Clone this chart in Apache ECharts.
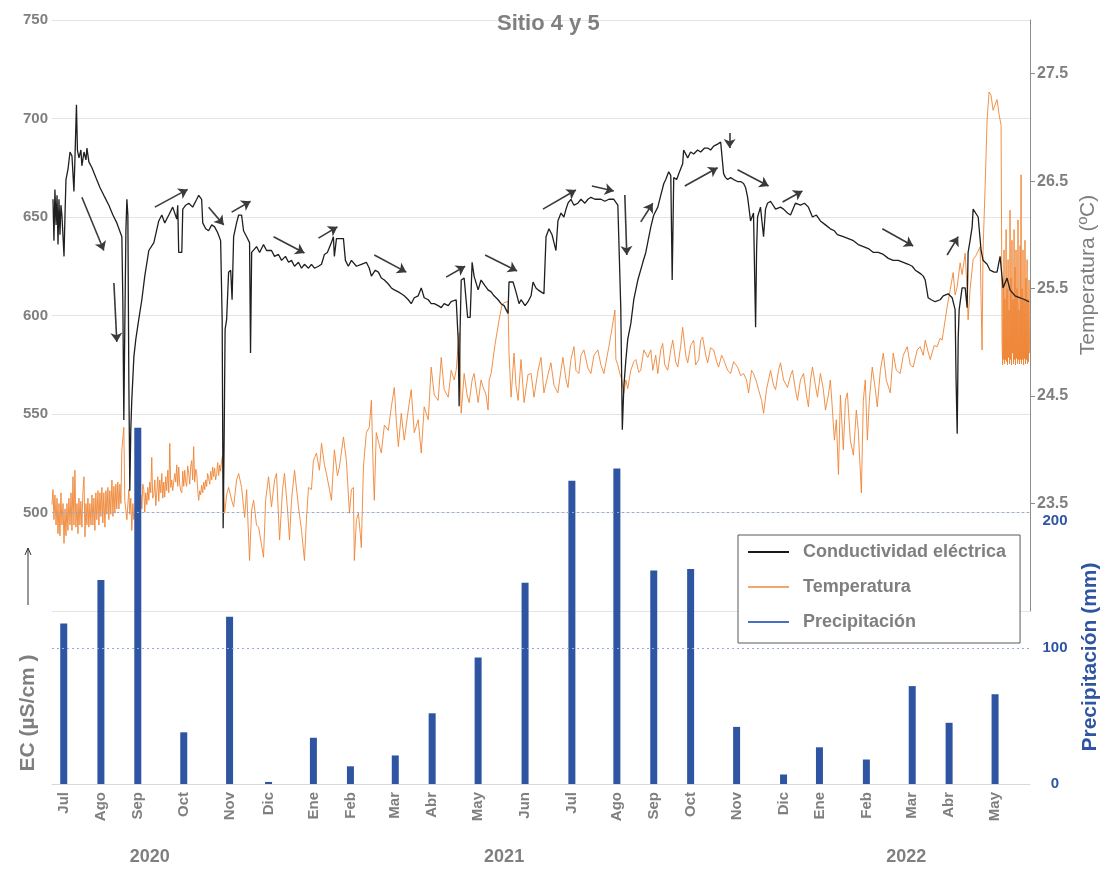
<!DOCTYPE html>
<html>
<head>
<meta charset="utf-8">
<script src="https://cdn.jsdelivr.net/npm/echarts@6/dist/echarts.min.js"></script>
<style>html,body{margin:0;padding:0;background:#fff}#c{width:1104px;height:869px}</style>
</head>
<body>
<div id="c"></div>
<script>
// x values are days counted from 1 July 2020
const monthLabels = ['Jul','Ago','Sep','Oct','Nov','Dic','Ene','Feb','Mar','Abr','May','Jun','Jul','Ago','Sep','Oct','Nov','Dic','Ene','Feb','Mar','Abr','May'];
const barDays = [8.4,35,61.4,94.3,127.1,155,187.1,213.6,245.7,272.1,305,338.6,372.1,404.3,430.7,457.1,490,523.6,549.3,582.9,615.7,642.1,675];
const precipitation = [118,150,262,38,123,1.5,34,13,21,52,93,148,223,232,157,158,42,7,27,18,72,45,66];
const yearLabels = ['2020','2021','2022'];
const yearDays = [70,323.6,611.4];
const ecTicks = [500,550,600,650,700,750];
const tempTicks = [23.5,24.5,25.5,26.5,27.5];
const precipTicks = [0,100,200];

const ecData = [
[0.7,659],[1.4,638],[2.1,664],[2.9,646],[3.6,661],[4.3,636],[5,659],[5.7,641],[6.4,656],[7.1,651],
[8.6,630],[9.3,651],[10,669],[11.4,674],[12.9,683],[14.3,681],[15.7,663],[16.4,679],[17.5,707],[18.2,684],
[19.3,680],[20.7,684],[21.4,676],[22.9,683],[24.3,679],[25,685],[26.4,678],[28.6,675],[31.4,670],[34.3,665],
[37.1,661],[40.7,656],[43.6,651],[46.4,647],[50,640],[50.7,608],[51.4,547],[52.1,593],[52.9,643],[53.6,659],
[54.3,651],[55,567],[55.7,511],[56.4,542],[57.1,557],[58.6,579],[60,588],[62.1,598],[64.3,608],[66.4,620],
[69.3,633],[72.9,637],[76.4,648],[78.6,651],[80.7,647],[83.6,651],[86.4,655],[89.3,649],[90,656],[90.7,632],
[92.9,632],[93.6,654],[95.7,656],[97.9,657],[100.7,655],[103.6,659],[105,661],[107.1,659],[107.9,647],[110,644],
[112.1,643],[114.3,646],[116.4,645],[118.6,642],[120.7,638],[121.8,598],[122.5,492],[123.2,537],[123.9,593],[125,598],
[126.4,622],[127.9,623],[128.9,608],[130,640],[132.1,647],[133.6,651],[135.7,651],[137.1,643],[139.3,640],[141.4,637],
[142.1,581],[142.9,632],[146.4,635],[148.6,632],[151.4,636],[153.6,633],[155,632],[157.1,633],[159.3,630],[162.1,631],
[164.3,628],[167.1,630],[169.3,627],[171.4,628],[173.6,625],[176.4,627],[178.6,624],[180.7,626],[183.6,624],[185.7,626],
[187.9,624],[190.7,625],[192.9,626],[195,631],[197.1,632],[200,637],[201.4,640],[202.1,630],[203.6,639],[205.7,639],
[208.6,639],[210,628],[212.1,625],[214.3,628],[217.9,625],[221.4,626],[225,627],[227.1,624],[228.6,620],[231.4,623],
[233.6,622],[235.7,619],[237.9,618],[240.7,616],[242.9,614],[245,613],[247.9,612],[250,611],[252.1,610],[255,608],
[257.1,606],[259.3,609],[262.1,610],[264.3,614],[266.4,609],[269.3,608],[271.4,606],[273.6,606],[276.4,605],[278.6,604],
[280.7,606],[283.6,605],[285.7,607],[289.3,608],[290.7,588],[291.4,554],[292.1,593],[292.9,618],[295,619],[296.4,618],
[297.5,599],[299.3,599],[300,613],[300.7,627],[302.1,620],[305,613],[307.1,618],[310,615],[312.1,613],[314.3,612],
[316.4,610],[319.3,608],[321.4,606],[323.6,605],[325,603],[326.4,601],[327.1,617],[330,617],[332.1,612],[334.3,606],
[335.7,608],[337.1,609],[338.6,605],[340.7,607],[342.9,610],[344.3,617],[346.4,614],[347.9,613],[350,612],[352.1,611],
[353.6,640],[355.7,644],[357.9,641],[359.3,637],[360.7,633],[362.1,648],[364.3,652],[366.4,650],[367.9,654],[369.3,657],
[371.4,659],[373.6,656],[376.4,657],[378.6,659],[381.4,657],[383.6,659],[385.7,660],[388.6,659],[390.7,659],[392.9,659],
[395.7,658],[398.6,659],[402.1,659],[405,656],[406.4,655],[407.1,604],[408.2,542],[409.3,564],[410.7,577],[412.1,588],
[414.3,596],[416.4,608],[419.3,618],[422.9,627],[425,632],[428.6,645],[430.7,651],[433.6,655],[435.7,661],[437.9,667],
[439.3,669],[441.4,673],[442.9,671],[443.9,618],[445,670],[447.1,669],[448.6,672],[451.4,677],[452.1,684],[455,680],
[457.1,683],[459.3,682],[462.1,684],[464.3,683],[467.1,685],[469.3,685],[471.4,684],[473.6,686],[476.4,687],[478.6,688],
[480,688],[480.7,672],[482.1,670],[483.6,669],[485.7,670],[487.9,669],[490.7,668],[492.9,668],[495,667],[496.4,665],
[497.9,660],[500,648],[502.1,652],[503.6,594],[504.3,633],[505,650],[507.1,655],[509.3,640],[510.7,654],[512.1,657],
[514.3,658],[515.7,659],[517.9,654],[521.4,655],[523.6,654],[526.4,652],[528.6,651],[530,650],[532.1,657],[535.7,656],
[538.6,657],[541.4,655],[544.3,650],[547.1,651],[550,648],[553.6,646],[557.1,644],[560,643],[562.1,641],[566.4,640],
[570,639],[573.6,638],[577.1,636],[580.7,635],[584.3,634],[587.9,632],[591.4,632],[595,631],[598.6,629],[602.1,628],
[605.7,628],[609.3,627],[612.9,626],[615.7,625],[617.9,623],[620,622],[622.1,621],[623.6,620],[625,618],[626.4,617],
[627.1,609],[629.3,608],[632.1,607],[635.7,608],[637.9,610],[641.4,611],[644.3,609],[646.4,603],[647.1,567],[647.9,540],
[648.6,588],[649.3,603],[651.4,614],[653.6,614],[655,604],[655.7,632],[657.1,638],[658.6,645],[659.3,654],[660.7,653],
[662.9,650],[664.3,650],[665,633],[666.4,628],[669.3,626],[671.4,623],[674.3,622],[676.4,622],[678.6,630],[680.7,614],
[683.6,619],[685.7,613],[689.3,610],[692.9,609],[696.4,608],[699.3,607]
];

const tempData = [
[0,23.49],[0.7,23.63],[1.4,23.35],[2.1,23.58],[2.9,23.3],[3.6,23.55],[4.3,23.22],[5,23.5],[5.7,23.2],[6.4,23.6],
[7.1,23.3],[7.9,23.5],[8.6,23.13],[9.3,23.45],[10,23.2],[10.7,23.5],[11.4,23.25],[12.1,23.55],[12.9,23.3],[13.6,23.6],
[14.3,23.25],[15,23.75],[15.7,23.3],[16.4,23.81],[17.1,23.28],[17.9,23.5],[18.6,23.22],[19.3,23.55],[20,23.3],[20.7,23.52],
[21.4,23.28],[22.1,23.6],[22.9,23.75],[23.6,23.19],[24.3,23.5],[25,23.3],[25.7,23.55],[26.4,23.28],[27.1,23.5],[27.9,23.3],
[28.6,23.58],[29.3,23.3],[30,23.55],[30.7,23.25],[31.4,23.6],[32.1,23.35],[32.9,23.62],[33.6,23.3],[34.3,23.6],[35,23.38],
[35.7,23.65],[36.4,23.32],[37.1,23.6],[37.9,23.28],[38.6,23.62],[39.3,23.4],[40,23.65],[40.7,23.35],[41.4,23.62],[42.1,23.4],
[42.9,23.72],[43.6,23.38],[44.3,23.66],[45,23.41],[45.7,23.68],[46.4,23.45],[47.1,23.7],[47.9,23.45],[48.6,23.68],[49.3,23.5],
[50,24.0],[51.4,24.21],[52.1,23.53],[53.6,23.35],[55,23.63],[55.7,23.4],[56.4,23.55],[57.1,23.25],[57.9,23.5],[58.6,23.35],
[59.3,23.41],[60,23.6],[60.7,23.38],[61.4,23.49],[62.1,23.62],[62.9,23.37],[63.6,23.58],[64.3,23.45],[65,23.68],[65.7,23.63],
[66.4,23.42],[67.1,23.6],[67.9,23.49],[68.6,23.65],[69.3,23.53],[70,23.7],[70.7,23.6],[71.4,23.93],[72.1,23.55],[72.9,23.58],
[73.6,23.72],[74.3,23.48],[75,23.6],[75.7,23.75],[76.4,23.52],[77.1,23.72],[77.9,23.6],[78.6,23.78],[79.3,23.55],[80,23.7],
[80.7,23.56],[81.4,23.75],[82.1,23.62],[82.9,23.81],[83.6,23.6],[84.3,24.06],[85,23.65],[85.7,23.72],[86.4,23.62],[87.1,23.63],
[87.9,23.78],[88.6,23.7],[89.3,23.86],[90,23.66],[90.7,23.84],[91.4,23.68],[92.1,23.62],[92.9,23.6],[93.6,23.8],[94.3,23.66],
[95,23.81],[95.7,23.7],[96.4,23.66],[97.1,23.85],[97.9,23.78],[98.6,23.68],[99.3,23.85],[100,23.9],[100.7,23.72],[101.4,24.03],
[102.1,23.7],[102.9,23.82],[103.6,23.78],[104.3,23.62],[105,23.53],[105.7,23.62],[106.4,23.58],[107.1,23.67],[107.9,23.6],[108.6,23.7],
[109.3,23.63],[110,23.72],[110.7,23.66],[111.4,23.78],[112.1,23.74],[112.9,23.68],[113.6,23.8],[114.3,23.72],[115,23.84],[115.7,23.75],
[116.4,23.83],[117.1,23.72],[117.9,23.78],[118.6,23.88],[119.3,23.76],[120,23.86],[120.7,23.8],[121.4,23.9],[122.1,23.95],[122.9,23.6],
[123.6,23.41],[125,23.58],[126.4,23.65],[128.6,23.53],[130,23.47],[132.1,23.72],[133.6,23.78],[135.7,23.65],
[137.9,23.37],[139.3,23.63],[141.4,22.97],[142.9,23.44],[144.3,23.53],[146.4,23.3],[147.9,23.28],[150,23.11],[151.4,23.0],[152.9,23.53],
[155,23.75],[157.1,23.47],[159.3,23.72],[160.7,23.78],[162.9,23.16],[165,23.63],[166.4,23.78],[168.6,23.44],[170,23.16],[171.4,23.53],
[173.6,23.81],[176.4,23.47],[178.6,23.25],[180.7,22.97],[182.1,23.35],[183.6,23.65],[185.7,23.63],[187.1,23.9],[189.3,23.97],[191.4,23.81],
[192.9,24.06],[195,23.86],[196.4,23.78],[198.6,23.63],[200,23.53],[202.1,24.0],[204.3,23.76],[205.7,23.84],[208.6,24.12],[210.7,23.9],
[212.9,23.41],[214.3,23.63],[215.7,23.65],[216.4,22.97],[217.9,23.35],[219.3,23.41],[220.7,23.21],[221.4,23.09],[222.9,23.84],[225,24.16],
[227.1,24.21],[228.6,24.46],[230,23.78],[230.7,23.53],[232.1,24.16],[234.3,24.04],[235.7,23.97],[237.9,24.23],[240.7,24.18],[242.9,24.4],
[245,24.58],[246.4,24.28],[247.9,24.03],[250,24.34],[252.1,24.09],[255,24.37],[257.1,24.56],[259.3,24.16],[262.1,24.28],[264.3,23.97],
[266.4,24.4],[269.3,24.28],[271.4,24.77],[273.6,24.51],[276.4,24.46],[278.6,24.86],[280.7,24.56],[283.6,24.49],[285.7,24.74],[287.9,24.65],
[289.3,24.74],[291.4,25.09],[292.9,24.34],[295,24.71],[297.1,24.51],[298.6,24.44],[300.7,24.65],[302.1,24.71],[305,24.44],[307.1,24.65],
[308.6,24.58],[310.7,24.51],[312.1,24.37],[312.9,24.65],[314.3,24.71],[317.1,24.98],[320,25.21],[322.1,25.35],[323.6,25.37],[326.4,25.38],
[327.1,24.9],[328.6,24.49],[330.7,24.9],[332.1,24.6],[333.6,24.46],[335.7,24.84],[337.9,24.44],[340.7,24.7],[342.9,24.71],[345,24.49],
[347.9,24.74],[350,24.86],[352.1,24.53],[355,24.7],[357.1,24.81],[359.3,24.6],[362.1,24.53],[364.3,24.74],[365.7,24.86],[367.9,24.65],
[369.3,24.58],[371.4,24.84],[373.6,24.96],[375,24.74],[377.1,24.71],[378.6,24.88],[380.7,24.93],[383.6,24.76],[385.7,24.71],[387.9,24.88],
[390.7,24.93],[392.9,24.79],[395,24.71],[398.6,24.96],[400.7,25.12],[402.9,25.3],[403.6,24.84],[405,24.79],[406.4,24.71],[407.9,24.65],
[409.3,24.53],[410.7,24.65],[412.1,24.57],[413.6,24.69],[414.3,24.74],[416.4,24.82],[417.9,24.84],[420,24.72],[421.4,24.74],[423.6,24.93],
[426.4,24.86],[428.6,24.93],[430,24.74],[432.1,24.88],[433.6,24.71],[435.7,24.93],[437.1,24.99],[438.6,24.79],[440.7,24.74],[442.9,24.93],
[444.3,25.02],[446.4,24.82],[447.9,24.77],[450,24.97],[451.4,25.14],[453.6,24.88],[455,24.81],[457.1,24.97],[459.3,25.02],[460.7,24.79],
[462.9,24.84],[464.3,25.02],[465.7,25.05],[467.9,24.88],[469.3,24.81],[471.4,24.95],[473.6,24.93],[475.7,24.82],[477.1,24.77],[479.3,24.88],
[480.7,24.84],[483.6,24.74],[485.7,24.71],[487.9,24.82],[490.7,24.77],[492.9,24.69],[495,24.71],[497.1,24.65],[498.6,24.53],[500.7,24.74],
[502.1,24.71],[504.3,24.63],[505.7,24.56],[507.9,24.46],[509.3,24.34],[511.4,24.56],[514.3,24.74],[516.4,24.6],[517.9,24.56],[520,24.74],
[521.4,24.81],[523.6,24.65],[526.4,24.58],[528.6,24.69],[530,24.74],[532.1,24.56],[533.6,24.46],[535.7,24.65],[537.9,24.71],[540,24.51],
[541.4,24.4],[542.9,24.65],[544.3,24.77],[546.4,24.6],[547.9,24.49],[550,24.71],[552.1,24.56],[553.6,24.37],[555.7,24.51],[557.1,24.65],
[558.6,24.37],[560,24.09],[561.4,24.28],[562.9,23.77],[564.3,24.51],[566.4,24.0],[567.9,24.46],[569.3,24.53],[571.4,24.09],[573.6,23.95],
[575.7,24.37],[577.1,24.18],[579.3,23.6],[580.7,24.46],[582.1,24.65],[583.6,24.09],[585,24.46],[587.1,24.77],[589.3,24.56],[590.7,24.4],
[592.9,24.74],[595,24.9],[597.1,24.65],[600,24.53],[602.1,24.9],[604.3,24.74],[607.1,24.71],[609.3,24.88],[612.1,24.96],[614.3,24.79],
[616.4,24.77],[619.3,24.93],[621.4,24.96],[623.6,24.88],[625,25.02],[627.1,24.91],[628.6,24.84],[631.4,24.97],[633.6,24.96],[635.7,25.04],
[637.1,25.02],[637.9,25.09],[639.3,25.21],[640.7,25.33],[642.9,25.49],[645,25.65],[646.4,25.44],[647.9,25.52],[650,25.74],[651.4,25.63],
[653.6,25.83],[655,25.49],[655.7,25.21],[657.1,25.49],[659.3,25.77],[661.4,25.81],[664.3,25.89],[665,25.39],[665.7,24.93],[666.4,25.86],
[667.9,26.45],[669.3,27.07],[670.7,27.33],[672.1,27.3],[673.6,27.16],[675,27.21],[676.4,27.26],[677.9,27.12],[679.3,27.02],
[680,25.02],[680.4,24.79],[680.7,25.6],[681.1,24.84],[681.4,25.86],[681.8,24.8],[682.1,25.4],[682.5,24.84],[682.9,26.05],[683.2,24.82],
[683.6,25.5],[683.9,24.79],[684.3,25.77],[684.6,24.86],[685,25.3],[685.4,24.8],[685.7,26.23],[686.1,24.84],[686.4,25.6],[686.8,24.79],
[687.1,25.95],[687.5,24.9],[687.9,25.4],[688.2,24.8],[688.6,26.05],[688.9,24.84],[689.3,25.7],[689.6,24.79],[690,25.86],[690.4,24.85],
[690.7,25.5],[691.1,24.8],[691.4,26.14],[691.8,24.84],[692.1,25.3],[692.5,24.8],[692.9,25.9],[693.2,24.84],[693.6,26.56],[693.9,24.8],
[694.3,25.5],[694.6,24.84],[695,25.86],[695.4,24.79],[695.7,25.4],[696.1,24.85],[696.4,25.95],[696.8,24.8],[697.1,25.6],[697.5,24.84],
[697.9,25.77],[698.2,24.8],[698.6,25.4],[698.9,24.82],[699.3,25.58],[699.7,24.9]
];

// annotation arrows on the EC curve: [dayStart, ecStart, dayEnd, ecEnd]
const arrows = [
[21.4,660,37.1,633],[44.3,616.5,46.4,586.6],[73.6,655,97.1,664],[112.1,655,122.9,646],[128.6,652.5,142.1,658],
[158.6,640,180.7,631.7],[190.7,639.3,204.3,645],[230.7,630.7,253.6,622],[282.1,619.5,295.7,625],[310,630.7,332.9,622.6],
[351.4,654,375,663.7],[386.4,665.7,402.1,663.2],[410,661.2,411.4,630.7],[421.4,647.5,430,657],[452.9,665.7,476.4,675],
[485,692.6,485,685],[490.7,674,512.9,665.7],[522.9,657.6,537.1,663.2],[594.3,644,616.4,635.3],[640.7,630.7,648.6,640]
];

const GRAY = '#7f7f7f';
const BLUE = '#2f55a2';
const FONT = 'Liberation Sans, Arial, sans-serif';
const chart = echarts.init(document.getElementById('c'), null, {renderer: 'canvas'});

function nearestLabel(v, pos, labels) {
  let best = 0;
  for (let i = 1; i < pos.length; i++) if (Math.abs(pos[i] - v) < Math.abs(pos[best] - v)) best = i;
  return labels[best];
}

chart.setOption({
  animation: false,
  backgroundColor: '#fff',
  title: {
    text: 'Sitio 4 y 5', left: 492, top: 8,
    textStyle: {fontFamily: FONT, fontSize: 22, fontWeight: 'bold', color: GRAY}
  },
  legend: {
    orient: 'vertical', left: 738, top: 535,
    backgroundColor: '#fff', borderColor: '#595959', borderWidth: 1,
    padding: [7, 14, 11, 10], itemGap: 15, itemWidth: 41, itemHeight: 2, icon: 'rect',
    textStyle: {fontFamily: FONT, fontSize: 18, fontWeight: 'bold', color: GRAY, lineHeight: 20, padding: [0, 0, 0, 9]},
    data: [
      {name: 'Conductividad eléctrica', itemStyle: {color: '#1a1a1a'}},
      {name: 'Temperatura', itemStyle: {color: '#f4a46e'}},
      {name: 'Precipitación', itemStyle: {color: '#4a6fc0'}}
    ]
  },
  grid: [
    {left: 52, right: 74, top: 20, height: 591},
    {left: 52, right: 74, top: 104, height: 680}
  ],
  xAxis: [
    {gridIndex: 0, type: 'value', min: 0, max: 700, show: false, splitLine: {show: false}},
    {gridIndex: 1, type: 'value', min: 0, max: 700, position: 'bottom',
      axisLine: {show: true, lineStyle: {color: '#d9d9d9', width: 1}},
      axisTick: {show: false}, splitLine: {show: false},
      axisLabel: {customValues: barDays, rotate: 90, margin: 8,
        formatter: v => nearestLabel(v, barDays, monthLabels),
        fontFamily: FONT, fontSize: 15, fontWeight: 'bold', color: GRAY}},
    {gridIndex: 1, type: 'value', min: 0, max: 700, position: 'bottom', offset: 60,
      axisLine: {show: false}, axisTick: {show: false}, splitLine: {show: false},
      axisLabel: {customValues: yearDays, margin: 4,
        formatter: v => nearestLabel(v, yearDays, yearLabels),
        fontFamily: FONT, fontSize: 18, fontWeight: 'bold', color: GRAY}}
  ],
  yAxis: [
    {gridIndex: 0, type: 'value', min: 450, max: 750, interval: 50, position: 'left',
      axisLine: {show: false}, axisTick: {show: false},
      splitLine: {show: true, lineStyle: {color: '#e4e4e4', width: 1}},
      axisLabel: {margin: 4, customValues: ecTicks,
        fontFamily: FONT, fontSize: 15, fontWeight: 'bold', color: GRAY}},
    {gridIndex: 0, type: 'value', min: 22.5, max: 28, position: 'right',
      axisLine: {show: true, lineStyle: {color: '#8c8c8c', width: 1}},
      axisTick: {show: true, customValues: tempTicks, length: 5, lineStyle: {color: '#8c8c8c'}},
      splitLine: {show: false},
      axisLabel: {customValues: tempTicks, margin: 7, formatter: v => v.toFixed(1),
        fontFamily: FONT, fontSize: 16, fontWeight: 'bold', color: GRAY}},
    {gridIndex: 1, type: 'value', min: 0, max: 500, interval: 100, position: 'right',
      axisLine: {show: false}, axisTick: {show: false}, splitLine: {show: false},
      axisLabel: {customValues: precipTicks, margin: 25, align: 'center',
        formatter: v => (v === 200 ? '{low|200}' : String(v)),
        rich: {low: {padding: [18, 0, 0, 0], fontFamily: FONT, fontSize: 15, fontWeight: 'bold', color: BLUE}},
        fontFamily: FONT, fontSize: 15, fontWeight: 'bold', color: BLUE}}
  ],
  series: [
    {
      name: 'Temperatura', type: 'line', xAxisIndex: 0, yAxisIndex: 1, z: 2,
      data: tempData, showSymbol: false, symbol: 'none',
      lineStyle: {color: '#ee8535', width: 1, opacity: 0.9}, itemStyle: {color: '#f4a46e'}
    },
    {
      name: 'Conductividad eléctrica', type: 'line', xAxisIndex: 0, yAxisIndex: 0, z: 4,
      data: ecData, showSymbol: false, symbol: 'none',
      lineStyle: {color: '#1f1f1f', width: 1.3}, itemStyle: {color: '#1a1a1a'},
      markLine: {
        silent: true, symbol: ['none', 'arrow'], symbolSize: 9,
        label: {show: false},
        lineStyle: {color: '#3a3a3a', width: 1.6, type: 'solid'},
        emphasis: {disabled: true},
        data: arrows.map(a => [{coord: [a[0], a[1]]}, {coord: [a[2], a[3]]}])
      }
    },
    {
      name: 'Precipitación', type: 'bar', xAxisIndex: 1, yAxisIndex: 2, z: 3,
      data: barDays.map((d, i) => [d, precipitation[i]]),
      barWidth: 7, itemStyle: {color: BLUE},
      markLine: {
        silent: true, symbol: 'none', label: {show: false},
        lineStyle: {color: '#8faadc', width: 1, type: [2, 3]},
        emphasis: {disabled: true},
        data: [{yAxis: 100}, {yAxis: 200}]
      }
    }
  ],
  graphic: [
    {type: 'text', x: 28, y: 713, rotation: Math.PI / 2,
      style: {text: 'EC (µS/cm )', font: 'bold 21px ' + FONT, fill: GRAY, align: 'center', verticalAlign: 'middle'}},
    {type: 'line', shape: {x1: 28, y1: 605, x2: 28, y2: 548}, style: {stroke: '#333', lineWidth: 1}},
    {type: 'polyline', shape: {points: [[25, 555], [28, 548], [31, 555]]}, style: {stroke: '#333', lineWidth: 1, fill: null}},
    {type: 'text', x: 1088, y: 275, rotation: Math.PI / 2,
      style: {text: 'Temperatura (ºC)', font: '21px ' + FONT, fill: GRAY, align: 'center', verticalAlign: 'middle'}},
    {type: 'text', x: 1090, y: 657, rotation: Math.PI / 2,
      style: {text: 'Precipitación (mm)', font: 'bold 21px ' + FONT, fill: BLUE, align: 'center', verticalAlign: 'middle'}}
  ]
});
</script>
</body>
</html>
